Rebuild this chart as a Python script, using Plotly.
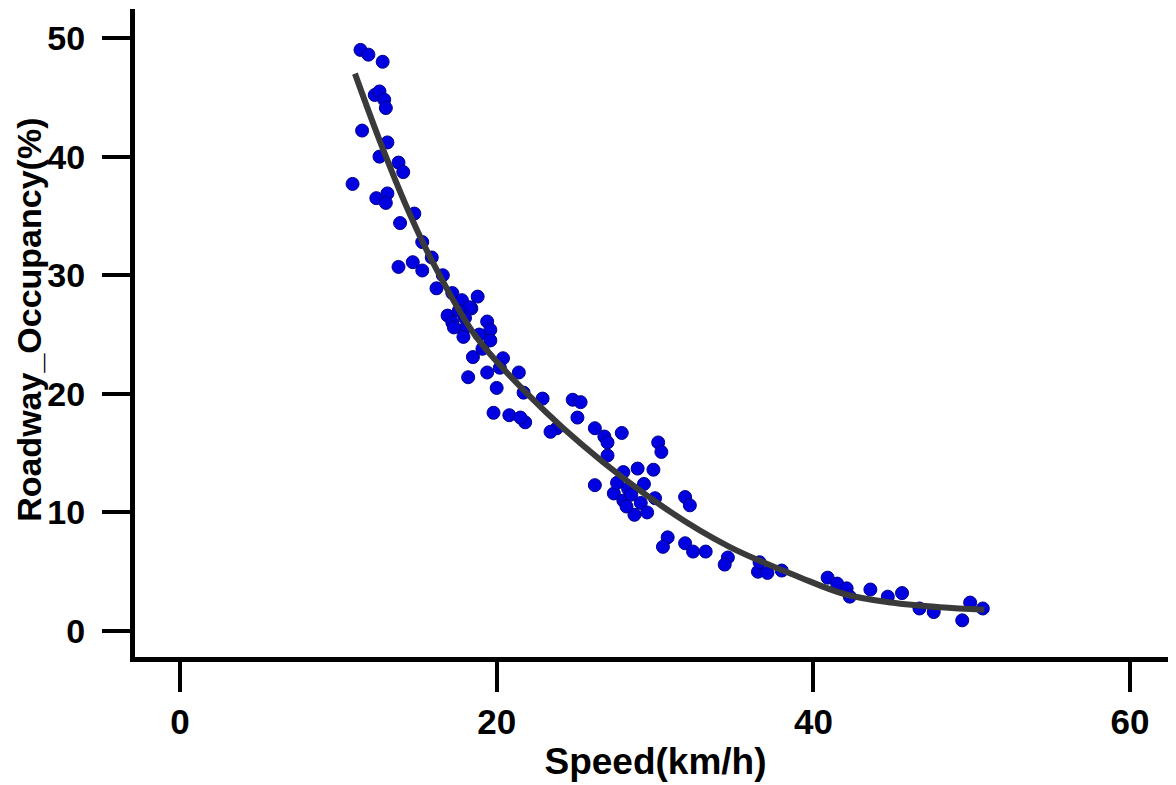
import plotly.graph_objects as go

speed = [11.4, 11.9, 12.8, 12.3, 12.6, 12.9, 13.0, 11.5, 13.1, 12.6, 13.8, 14.1, 10.9,
         12.4, 13.1, 13.0, 14.8, 13.9, 15.3, 15.9, 13.8, 14.7, 15.3, 16.6, 16.2, 17.2,
         17.8, 18.8, 18.4, 16.9, 17.2, 19.4, 17.9, 19.6, 18.3, 17.3, 17.9, 19.6, 18.5,
         20.4, 18.2, 19.4, 21.4, 20.0, 21.7, 22.9, 24.8, 25.3, 19.8, 20.8, 21.8, 21.5,
         25.1, 23.8, 23.4, 26.2, 26.8, 27.9, 27.0, 27.0, 30.2, 30.4, 28.9, 29.9, 28.0,
         26.2, 27.4, 28.0, 29.1, 30.0, 28.7, 29.5, 31.9, 32.2, 30.8, 30.5, 31.9, 32.4,
         33.2, 34.6, 34.4, 36.5, 37.1, 38.0, 36.6, 40.9, 41.5, 42.1, 43.6, 44.7, 45.6,
         46.7, 47.6, 49.4, 49.9, 50.7, 42.3, 27.6, 28.3, 28.5, 29.3, 28.2,
         18.0, 18.9, 19.1, 17.6, 20.2]
occupancy = [49.0, 48.6, 48.0, 45.2, 45.5, 44.8, 44.1, 42.2, 41.2, 40.0, 39.5, 38.7, 37.7,
             36.5, 36.9, 36.1, 35.2, 34.4, 32.8, 31.5, 30.7, 31.1, 30.4, 30.0, 28.9, 28.5,
             27.9, 28.2, 27.2, 26.6, 26.0, 26.1, 25.4, 25.4, 27.3, 25.6, 24.8, 24.5, 23.1,
             23.0, 21.4, 21.8, 21.8, 20.5, 20.1, 19.6, 19.5, 19.3, 18.4, 18.2, 17.6, 18.0,
             18.0, 17.1, 16.8, 17.1, 16.4, 16.7, 15.9, 14.8, 15.9, 15.1, 13.7, 13.6, 13.4,
             12.3, 11.6, 11.0, 10.8, 11.2, 9.8, 10.0, 11.3, 10.6, 7.9, 7.1, 7.4, 6.7,
             6.7, 6.2, 5.6, 5.0, 4.9, 5.1, 5.8, 4.5, 4.0, 3.6, 3.5, 2.9, 3.2,
             1.9, 1.6, 0.9, 2.4, 1.9, 2.9, 12.5, 12.0, 11.5, 12.4, 10.5,
             26.4, 25.0, 23.8, 27.0, 22.2]

# fitted curve
fit_speed = [11.05, 12.6, 14.4, 16.0, 18.5, 20.5, 25.4, 30.8, 34.7, 39.2, 42.0, 44.9, 48.0, 50.8]
fit_occupancy = [47.0, 41.4, 35.5, 31.0, 25.2, 22.0, 15.7, 10.2, 7.1, 4.5, 3.1, 2.4, 2.0, 1.8]

x_ticks = [0, 20, 40, 60]
y_ticks = [0, 10, 20, 30, 40, 50]

font_family = "Liberation Sans, Arial, sans-serif"

fig = go.Figure()
fig.add_trace(go.Scatter(
    x=speed, y=occupancy, mode="markers",
    marker=dict(size=13, color="#0000e0", line=dict(width=1, color="#00008a")),
    showlegend=False,
))
fig.add_trace(go.Scatter(
    x=fit_speed, y=fit_occupancy, mode="lines",
    line=dict(color="#3a3a3a", width=6, shape="spline", smoothing=1.0),
    showlegend=False,
))

fig.update_layout(
    width=1168, height=777,
    margin=dict(l=127, r=0, t=1, b=128),
    plot_bgcolor="white", paper_bgcolor="white",
    font=dict(family=font_family, color="black"),
    annotations=[dict(
        text="Roadway_Occupancy(%)", xref="paper", yref="paper",
        x=-0.102, y=0.52, xanchor="center", yanchor="middle",
        textangle=-90, showarrow=False,
        font=dict(size=34, family=font_family, weight="bold", color="black"),
    )],
)
fig.update_xaxes(
    range=[-2.84, 62.9], tickvals=x_ticks, ticktext=[str(v) for v in x_ticks],
    showgrid=False, zeroline=False,
    showline=True, linewidth=5, linecolor="black",
    ticks="outside", ticklen=30, tickwidth=4, tickcolor="black",
    tickfont=dict(size=35, family=font_family, weight="bold"),
    title=dict(text="Speed(km/h)", font=dict(size=37, family=font_family, weight="bold"), standoff=10),
)
fig.update_yaxes(
    range=[-2.19, 52.45], tickvals=y_ticks, ticktext=[str(v) for v in y_ticks],
    showgrid=False, zeroline=False,
    showline=True, linewidth=5, linecolor="black",
    ticks="outside", ticklen=28, tickwidth=4, tickcolor="black",
    ticklabelstandoff=10,
    tickfont=dict(size=34, family=font_family, weight="bold"),
)

fig.write_html("out.html")
